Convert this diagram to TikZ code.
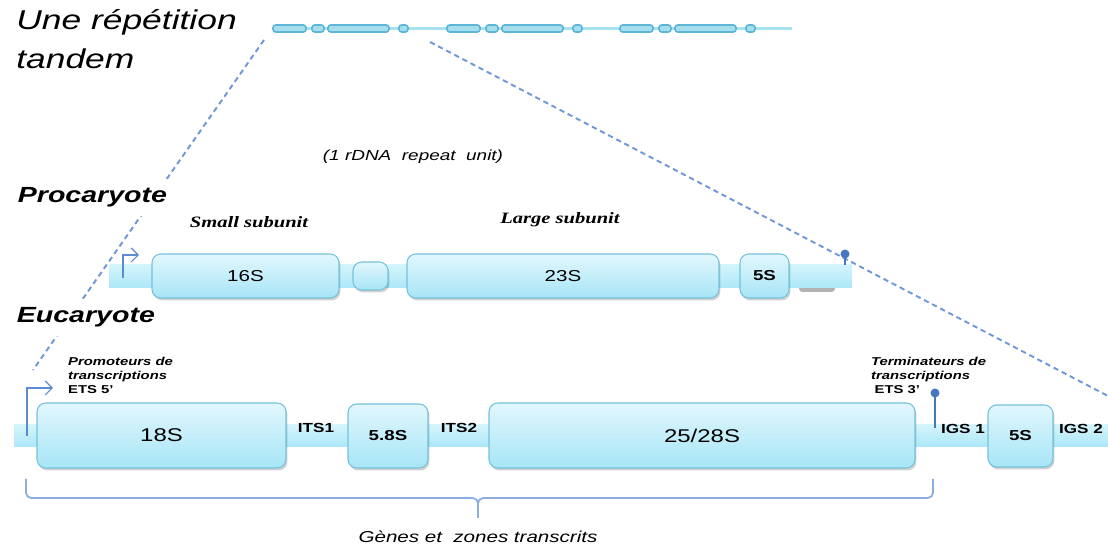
\documentclass[tikz,border=0pt]{standalone}
\usepackage{fontspec}
\setmainfont{Liberation Sans}[FakeStretch=1.3]
\newfontfamily\timesw{Liberation Serif}[FakeStretch=1.3]
\usetikzlibrary{arrows.meta}

\definecolor{guideblue}{HTML}{7097D6}
\definecolor{promblue}{HTML}{5D8AD0}
\definecolor{termblue}{HTML}{4677C0}
\definecolor{braceblue}{HTML}{8AAEDD}
\definecolor{repcyan}{HTML}{A7E2F2}
\definecolor{repedge}{HTML}{5DB6D6}
\definecolor{repfill}{HTML}{A6DEEE}
\definecolor{genetop}{HTML}{E2F7FD}
\definecolor{genebot}{HTML}{A7E5F7}
\definecolor{genedraw}{HTML}{73C2DB}
\definecolor{bartop}{HTML}{D4F4FC}
\definecolor{barbot}{HTML}{ACE7F8}

\tikzset{
  guide/.style={draw=guideblue, line width=1.1pt, dash pattern=on 3pt off 2.2pt},
  repline/.style={draw=repcyan, line width=1.6pt},
  repbox/.style={draw=repedge, line width=0.9pt, fill=repfill, rounded corners=1.5pt},
  bar/.style={top color=bartop, bottom color=barbot, draw=none},
  gene/.style={draw=genedraw, line width=0.6pt, rounded corners=5pt,
    top color=genetop, bottom color=genebot,
    preaction={fill=black, fill opacity=0.18, transform canvas={xshift=0.8pt,yshift=-1.4pt}}},
  prom/.style={draw=promblue, line width=0.7pt, -{Straight Barb[length=4pt,width=8pt]}},
  stem/.style={draw=termblue, line width=1pt},
  brace/.style={draw=braceblue, line width=1pt, rounded corners=3pt},
  title/.style={font=\fontsize{15.5}{22.5}\selectfont\itshape, align=left, inner sep=0pt},
  kingdom/.style={font=\fontsize{12.5}{14}\selectfont\bfseries\itshape, fill=white, inner xsep=2pt, inner ysep=5pt},
  big/.style={font=\fontsize{10.5}{12}\selectfont},
  mid/.style={font=\fontsize{9}{11}\selectfont},
  small/.style={font=\fontsize{8.2}{10}\selectfont\bfseries},
  spacer/.style={font=\fontsize{7.5}{9}\selectfont\bfseries},
  sub/.style={font=\timesw\fontsize{9}{11}\selectfont\bfseries\itshape},
  note/.style={font=\fontsize{8.3}{10}\selectfont\itshape},
  tag/.style={font=\fontsize{6.5}{8}\selectfont\bfseries, align=left, inner sep=1pt},
  caption/.style={font=\fontsize{9}{11}\selectfont\itshape, inner sep=0pt}
}

\begin{document}
\begin{tikzpicture}[x=0.02cm,y=-0.02cm]
\useasboundingbox (0,0) rectangle (1108,546);

% zoom lines from the repeat down to the units
\coordinate (zl1) at (264,40);
\coordinate (zl2) at (33,370);
\coordinate (zr1) at (430,42);
\coordinate (zr2) at (1108,396);
\draw[guide] (zl1) -- (zl2);
\draw[guide] (zr1) -- (zr2);

% tandem repeat
\node[title, anchor=north west] (tandem) at (16,9) {Une répétition\\tandem};
\draw[repline] (273,28.5) -- (792,28.5);
\foreach \u in {273,447,620}
  {\foreach \a/\b in {0/33,39/51,55/116,126/135}
    {\draw[repbox] (\u+\a,25) rectangle (\u+\b,32);}}

\node[note] (unit) at (413,157) {(1 rDNA\ \ repeat\ \ unit)};

% procaryote
\node[kingdom, anchor=base west] (proc) at (14,203) {Procaryote};
\node[sub] (ssu) at (249,222) {Small subunit};
\node[sub] (lsu) at (560,220) {Large subunit};
\fill[black!30, rounded corners=2pt] (799,284) rectangle (835,292);
\draw[bar] (109,265) rectangle (852,288);
\draw[gene] (152,254) rectangle (339,298) node[midway, mid] (p16) {16S};
\draw[gene] (353,262) rectangle (388,290);
\draw[gene] (407,254) rectangle (719,298) node[midway, mid] (p23) {23S};
\draw[gene] (740,254) rectangle (789,298) node[midway, small] (p5) {5S};
\coordinate (pp0) at (123,278);
\coordinate (pp1) at (139,255);
\draw[prom] (pp0) |- (pp1);
\coordinate (pt0) at (845,265);
\coordinate (pt1) at (845,254);
\draw[stem] (pt0) -- (pt1);
\fill[termblue] (pt1) circle (4.5);

% eucaryote
\node[kingdom, anchor=base west] (euc) at (13,323) {Eucaryote};
\draw[bar] (14,425) rectangle (1108,447);
\draw[gene] (37,403) rectangle (286,468) node[midway, big] (e18) {18S};
\draw[gene] (348,404) rectangle (428,468) node[midway, small] (e58) {5.8S};
\draw[gene] (489,403) rectangle (915,468) node[midway, big] (e25) {25/28S};
\draw[gene] (988,405) rectangle (1053,467) node[midway, small] (e5) {5S};
\node[spacer] (its1) at (316,428) {ITS1};
\node[spacer] (its2) at (459,428) {ITS2};
\node[spacer] (igs1) at (963,429) {IGS 1};
\node[spacer] (igs2) at (1081,429) {IGS 2};

\node[tag, anchor=north west] (promo) at (66,355)
  {\textit{Promoteurs de}\\\textit{transcriptions}\\ETS 5'};
\node[tag, fill=white, anchor=north west] (termi) at (869,355)
  {\textit{Terminateurs de}\\\textit{transcriptions}\\\hspace*{2pt}ETS 3'};
\coordinate (ep0) at (27,436);
\coordinate (ep1) at (53,388);
\draw[prom] (ep0) |- (ep1);
\coordinate (et0) at (935,428);
\coordinate (et1) at (935,393);
\draw[stem] (et0) -- (et1);
\fill[termblue] (et1) circle (4.5);

% transcribed part
\draw[brace] (26,479) -- (26,498) -- (478,498) -- (478,518);
\draw[brace] (933,479) -- (933,498) -- (478,498) -- (478,518);
\node[caption, anchor=base] (genes) at (478,542) {Gènes et\ \ zones transcrits};
\end{tikzpicture}
\end{document}
